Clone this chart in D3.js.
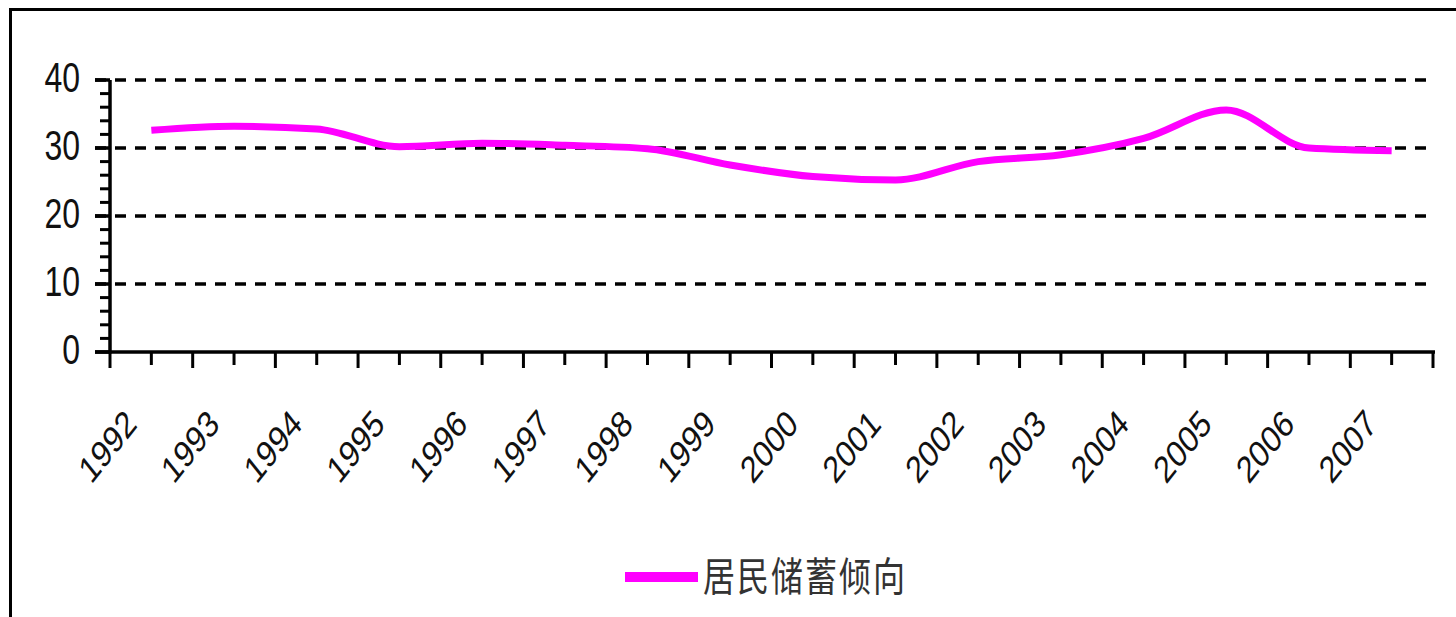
<!DOCTYPE html>
<html>
<head>
<meta charset="utf-8">
<script src="https://cdn.jsdelivr.net/npm/d3@7"></script>
<style>
  html, body { margin: 0; padding: 0; background: #fff; }
  svg { display: block; }
</style>
</head>
<body>
<svg id="chart" width="1456" height="617"></svg>
<script>
const years = ['1992','1993','1994','1995','1996','1997','1998','1999','2000','2001','2002','2003','2004','2005','2006','2007'];
const values = [32.6, 33.2, 32.8, 30.2, 30.7, 30.4, 29.9, 27.5, 25.8, 25.3, 28.0, 29.0, 31.4, 35.6, 30.0, 29.6];
const yTicks = [0, 10, 20, 30, 40];
const yMinorTicks = d3.range(0, 41, 2);
const seriesName = '居民储蓄倾向';

const svg = d3.select('#chart');
const W = 1456, H = 617;
svg.append('rect').attr('width', W).attr('height', H).attr('fill', '#fff');

// outer frame (left and top visible)
svg.append('line').attr('x1', 10.5).attr('x2', 10.5).attr('y1', 8).attr('y2', H).attr('stroke', '#000').attr('stroke-width', 3);
svg.append('line').attr('x1', 9).attr('x2', W).attr('y1', 9.5).attr('y2', 9.5).attr('stroke', '#000').attr('stroke-width', 3);

const x = d3.scaleBand().domain(years).range([110, 1433]).padding(0);
const y = d3.scaleLinear().domain([0, 40]).range([352, 80]);
const cx = d => x(d) + x.bandwidth() / 2;

// gridlines
svg.append('g').selectAll('line').data(yTicks.filter(v => v > 0)).join('line')
  .attr('x1', 95).attr('x2', 1427)
  .attr('y1', d => y(d)).attr('y2', d => y(d))
  .attr('stroke', '#000').attr('stroke-width', 3.5)
  .attr('stroke-dasharray', '11,9');

// y minor ticks
svg.append('g').selectAll('line').data(yMinorTicks.filter(v => v % 10 !== 0)).join('line')
  .attr('x1', 100).attr('x2', 110)
  .attr('y1', d => y(d)).attr('y2', d => y(d))
  .attr('stroke', '#000').attr('stroke-width', 3);
// y major ticks
svg.append('g').selectAll('line').data(yTicks).join('line')
  .attr('x1', 95).attr('x2', 110)
  .attr('y1', d => y(d)).attr('y2', d => y(d))
  .attr('stroke', '#000').attr('stroke-width', 3.5);

// y axis line
svg.append('line').attr('x1', 110).attr('x2', 110).attr('y1', y(40)).attr('y2', y(0) + 1.5)
  .attr('stroke', '#000').attr('stroke-width', 3.5);
// x axis line
svg.append('line').attr('x1', 95).attr('x2', 1435).attr('y1', y(0)).attr('y2', y(0))
  .attr('stroke', '#000').attr('stroke-width', 3.5);

// x ticks: tall at category boundaries, short at centres
const bounds = years.map(d => x(d)).concat([x(years[years.length - 1]) + x.bandwidth()]);
svg.append('g').selectAll('line').data(bounds).join('line')
  .attr('x1', d => d).attr('x2', d => d)
  .attr('y1', y(0)).attr('y2', y(0) + 16)
  .attr('stroke', '#000').attr('stroke-width', 3);
svg.append('g').selectAll('line').data(years).join('line')
  .attr('x1', d => cx(d)).attr('x2', d => cx(d))
  .attr('y1', y(0)).attr('y2', y(0) + 13)
  .attr('stroke', '#000').attr('stroke-width', 3);

// y labels
svg.append('g').selectAll('text').data(yTicks).join('text')
  .attr('transform', d => `translate(80,${y(d) - 3}) scale(1,1.35)`)
  .attr('dy', '0.358em')
  .attr('text-anchor', 'end')
  .attr('font-family', '"Liberation Sans", Arial, sans-serif')
  .attr('font-size', 32)
  .attr('fill', '#111')
  .text(d => d);

// x labels
svg.append('g').selectAll('text').data(years).join('text')
  .attr('transform', d => `translate(${cx(d) - 13},${y(0) + 74}) scale(1,1.25) rotate(-45)`)
  .attr('text-anchor', 'end')
  .attr('font-family', '"Liberation Sans", Arial, sans-serif')
  .attr('font-size', 30)
  .attr('fill', '#111')
  .text(d => d);

// series line
const line = d3.line()
  .x((d, i) => cx(years[i]))
  .y(d => y(d))
  .curve(d3.curveMonotoneX);
svg.append('path').datum(values)
  .attr('d', line)
  .attr('fill', 'none')
  .attr('stroke', '#ff00ff')
  .attr('stroke-width', 7)
  .attr('stroke-linejoin', 'round');

// legend
svg.append('line').attr('x1', 625).attr('x2', 698).attr('y1', 577).attr('y2', 577)
  .attr('stroke', '#ff00ff').attr('stroke-width', 10);
svg.append('text')
  .attr('transform', 'translate(703,577) scale(1,1.25)')
  .attr('dy', '0.36em')
  .attr('font-family', '"Noto Sans CJK SC", sans-serif')
  .attr('font-size', 32)
  .attr('letter-spacing', 2)
  .attr('fill', '#333')
  .text(seriesName);
</script>
</body>
</html>
